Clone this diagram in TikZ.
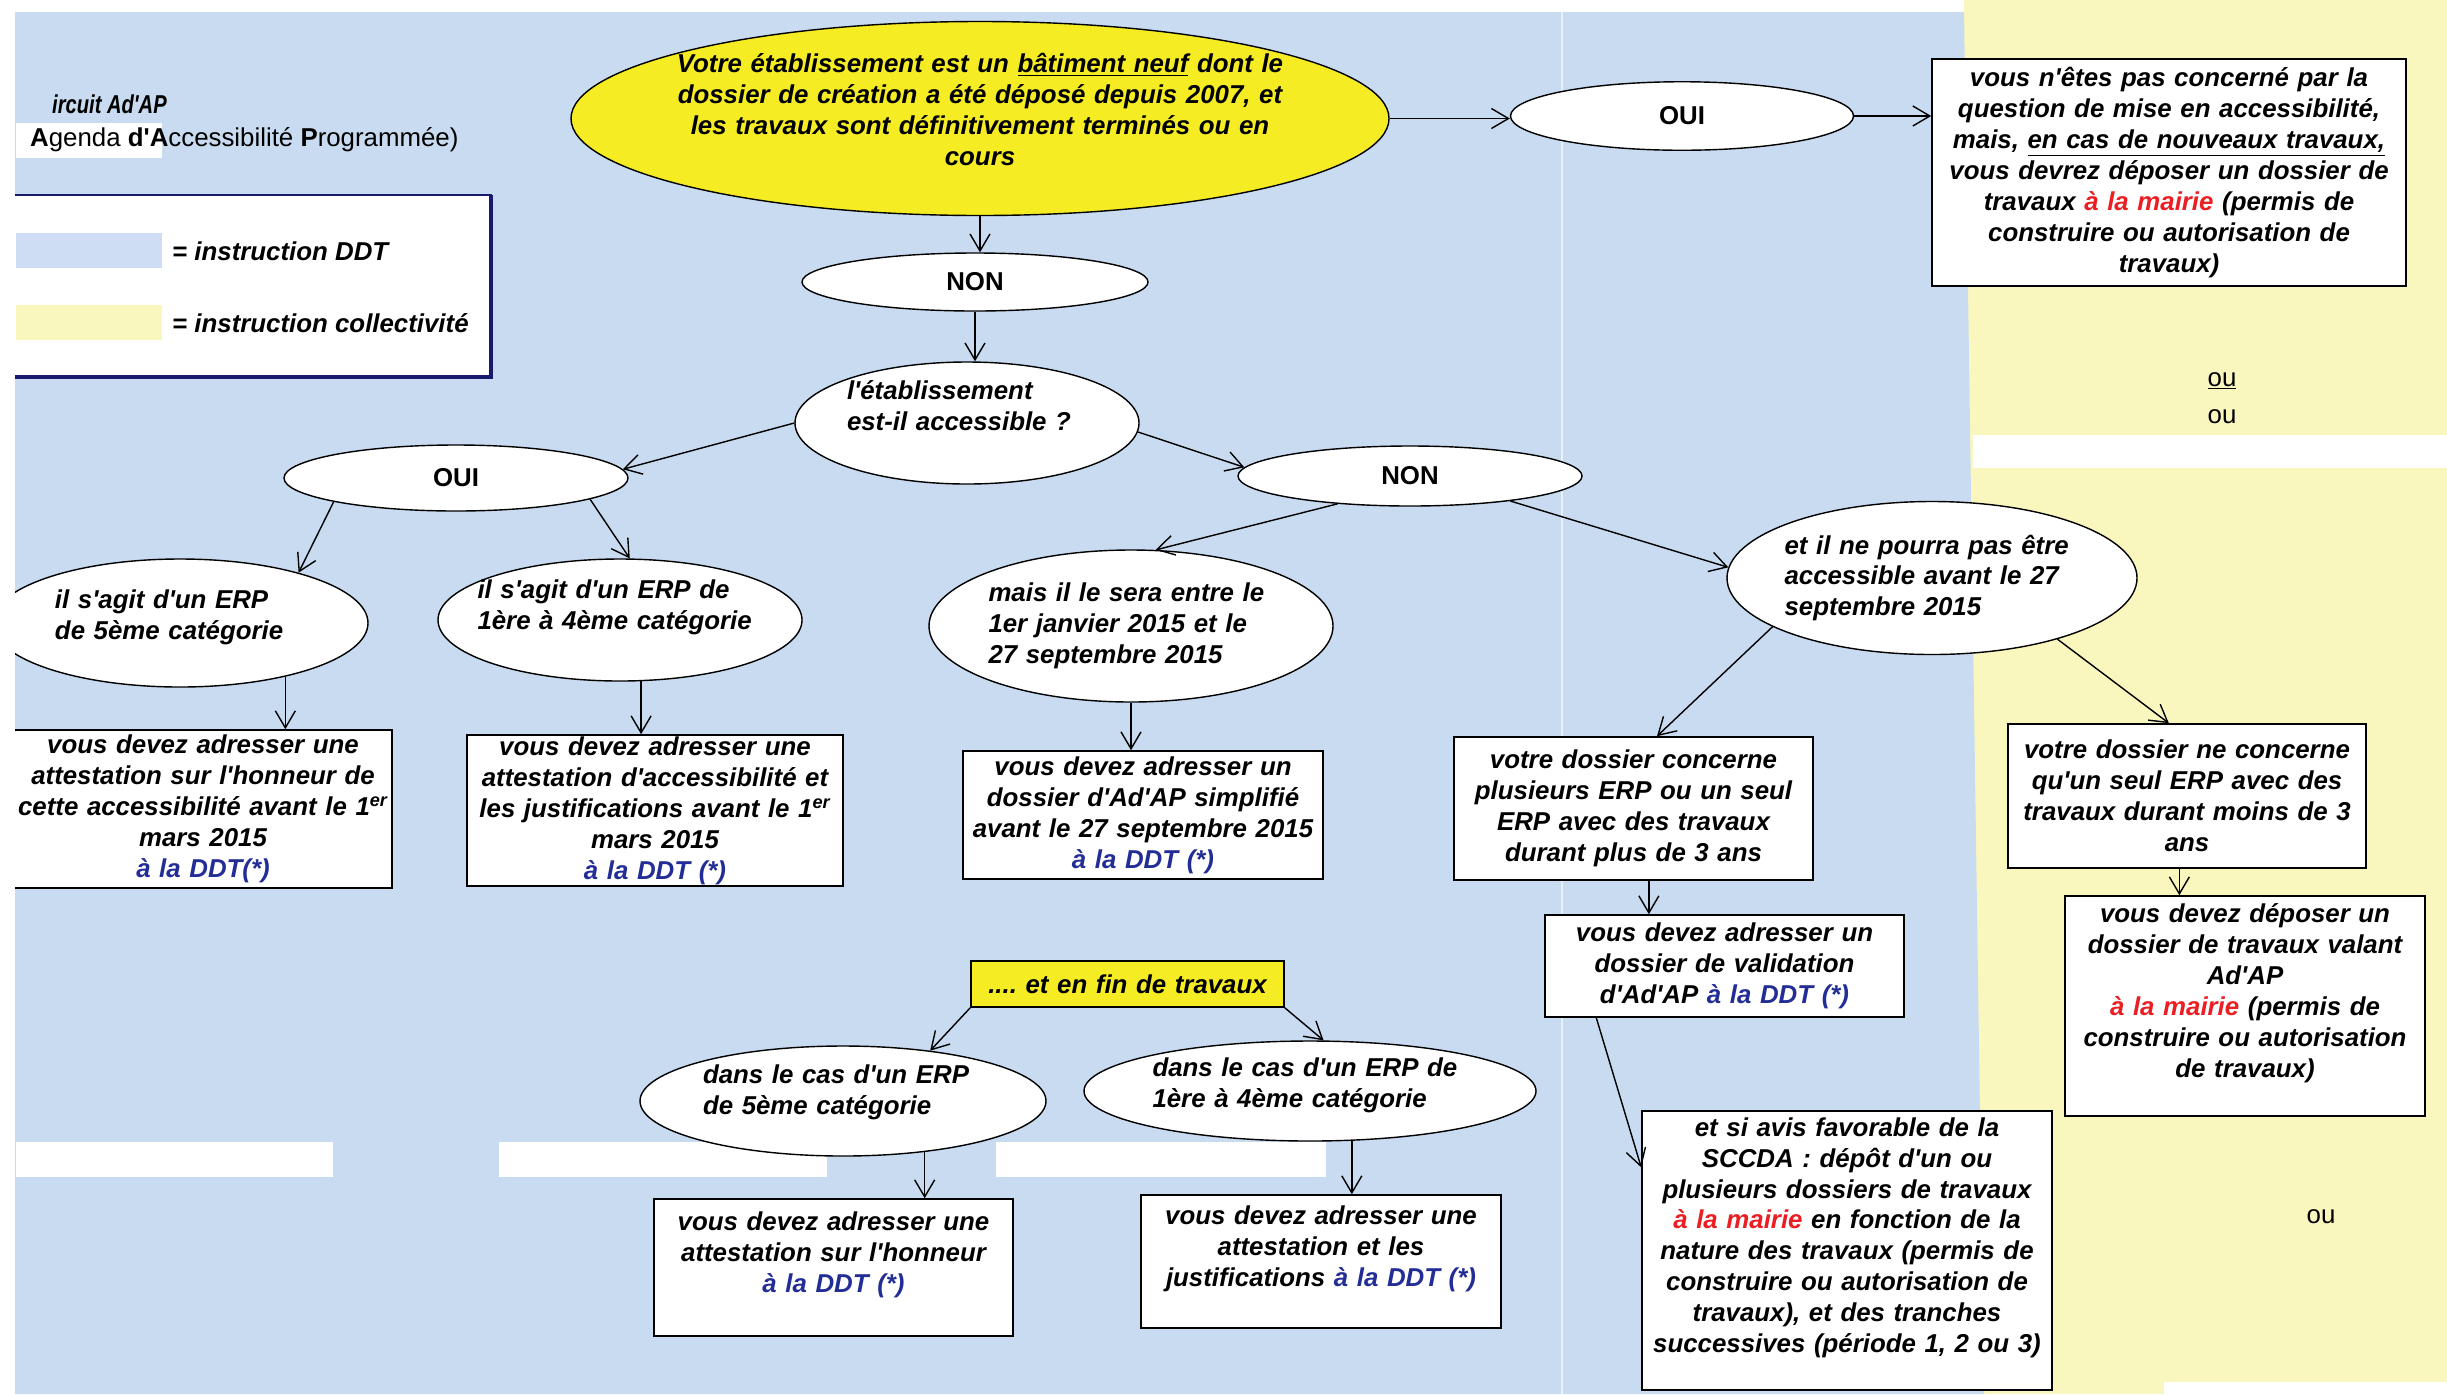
\documentclass[tikz,border=0pt]{standalone}
\usepackage{fontspec}
\usepackage{graphicx}
\setmainfont{Liberation Sans}[Ligatures=TeXOff]
\usetikzlibrary{shapes.geometric,arrows.meta}
\definecolor{fondbleu}{RGB}{200,219,240}
\definecolor{fondjaune}{RGB}{250,247,190}
\definecolor{carrebleu}{RGB}{206,221,243}
\definecolor{jaunevif}{RGB}{246,236,36}
\definecolor{bleuddt}{RGB}{35,45,150}
\definecolor{rougemairie}{RGB}{235,30,35}
\definecolor{marine}{RGB}{25,25,110}
\frenchspacing
\newcommand{\fsz}{\fontsize{14.7}{17.6}\selectfont}
\newcommand{\ddt}[1]{\textcolor{bleuddt}{#1}}
\newcommand{\mairie}[1]{\textcolor{rougemairie}{#1}}
\tikzset{
	bulle/.style={ellipse, draw, fill=white, line width=0.8pt, inner xsep=-3mm, inner ysep=0pt, align=left, font=\fsz\bfseries\itshape},
	choix/.style={ellipse, draw, fill=white, line width=0.8pt, font=\fsz\bfseries},
	cadre/.style={rectangle, draw, fill=white, line width=0.9pt, inner xsep=0.5mm, inner ysep=0.3mm, align=center, font=\fsz\bfseries\itshape},
	fleche/.style={-{Straight Barb[length=3.4mm,width=4mm]}, line width=0.8pt},
	etiq/.style={anchor=west, font=\fsz}
}
\begin{document}
\begin{tikzpicture}[x=0.2mm, y=-0.2mm]
	\useasboundingbox (0,0) rectangle (2447,1394);
	\clip (0,0) rectangle (2447,1394);
	\fill[white] (0,0) rectangle (2447,1394);
	\fill[fondjaune] (1964,0) rectangle (2447,1394);
	\fill[fondbleu] (15,12) -- (1964,12) -- (1984,1394) -- (15,1394) -- cycle;
	\fill[white] (1973,435) rectangle (2447,468);
	\fill[white] (16,1142) rectangle (333,1177);
	\fill[white] (499,1142) rectangle (827,1177);
	\fill[white] (996,1142) rectangle (1326,1177);
	\fill[white] (2164,1382) rectangle (2447,1394);
	\fill[white] (16,123) rectangle (162,158);
	\draw[white, opacity=0.6, line width=1.2pt] (1562,12) -- (1562,1394);

	\node[etiq, font=\fsz\bfseries\itshape] (titre) at (46,104) {\scalebox{0.78}[1]{ircuit Ad'AP}};
	\node[etiq] (soustitre) at (24,140) {\textbf{A}genda \textbf{d'A}ccessibilité \textbf{P}rogrammée)};
	\fill[white] (10,195) rectangle (491,377);
	\draw[marine, line width=1pt] (10,195) rectangle (491,377);
	\draw[marine, line width=2.2pt] (491,195) -- (491,377) -- (10,377);
	\fill[carrebleu] (16,233) rectangle (162,268);
	\fill[fondjaune] (16,305) rectangle (162,340);
	\node[etiq, font=\fsz\bfseries\itshape] (lddt) at (166,251) {= instruction DDT};
	\node[etiq, font=\fsz\bfseries\itshape] (lcoll) at (166,323) {= instruction collectivité};
	\node[etiq, anchor=center] (ou1) at (2222,381) {\underline{ou}};
	\node[etiq, anchor=center] (ou2) at (2222,417) {ou};
	\node[etiq, anchor=center] (ou3) at (2321,1217) {ou};

	\node[bulle, align=center, fill=jaunevif, inner xsep=-5mm, text width=124mm, minimum width=163.6mm, minimum height=38.8mm] (vtop) at (980,118.5) {Votre établissement est un \underline{bâtiment neuf} dont le\\dossier de création a été déposé depuis 2007, et\\les travaux sont définitivement terminés ou en\\cours\\[-2.5mm]\mbox{}};
	\node[choix, minimum width=68.6mm, minimum height=13.7mm] (oui1) at (1682,116) {OUI};
	\node[cadre, text width=93.8mm, minimum height=45.4mm] (b1) at (2169,172.5) {vous n'êtes pas concerné par la\\question de mise en accessibilité,\\mais, \underline{en cas de nouveaux travaux,}\\vous devrez déposer un dossier de\\travaux \mairie{à la mairie} (permis de\\construire ou autorisation de\\travaux)};
	\node[choix, minimum width=69.2mm, minimum height=11.6mm] (non1) at (975,282) {NON};
	\node[bulle, text width=48mm, minimum width=68.8mm, minimum height=24.4mm] (ques) at (967,423) {l'établissement\\est-il accessible ?\\[0.8mm]\mbox{}};
	\node[choix, minimum width=68.8mm, minimum height=13.2mm] (oui2) at (456,478) {OUI};
	\node[choix, minimum width=68.8mm, minimum height=12mm] (non2) at (1410,476) {NON};
	\node[bulle, text width=50mm, minimum width=75.2mm, minimum height=25.6mm] (cat5) at (180,623) {il s'agit d'un ERP\\de 5ème catégorie\\[-2.8mm]\mbox{}};
	\node[bulle, text width=57mm, minimum width=72.8mm, minimum height=24.4mm] (cat14) at (620,620) {il s'agit d'un ERP de\\1ère à 4ème catégorie\\\mbox{}};
	\node[bulle, text width=57mm, minimum width=80.8mm, minimum height=30.4mm] (sera) at (1131,626) {mais il le sera entre le\\1er janvier 2015 et le\\27 septembre 2015};
	\node[bulle, text width=59mm, minimum width=82mm, minimum height=30.6mm] (pourra) at (1932,578) {et il ne pourra pas être\\accessible avant le 27\\septembre 2015};
	\node[cadre, text width=74.6mm, minimum height=31.6mm] (b2) at (203,809) {vous devez adresser une\\attestation sur l'honneur de\\cette accessibilité avant le 1\textsuperscript{er}\\mars 2015\\\ddt{à la DDT(*)}};
	\node[cadre, text width=74.2mm, minimum height=30.2mm] (b3) at (655,810.5) {vous devez adresser une\\attestation d'accessibilité et\\les justifications avant le 1\textsuperscript{er}\\mars 2015\\\ddt{à la DDT (*)}};
	\node[cadre, text width=71mm, minimum height=25.6mm] (b4) at (1143,815) {vous devez adresser un\\dossier d'Ad'AP simplifié\\avant le 27 septembre 2015\\\ddt{à la DDT (*)}};
	\node[cadre, text width=70.8mm, minimum height=28.6mm] (b5) at (1633.5,808.5) {votre dossier concerne\\plusieurs ERP ou un seul\\ERP avec des travaux\\durant plus de 3 ans};
	\node[cadre, text width=70.6mm, minimum height=28.8mm] (b6) at (2187,796) {votre dossier ne concerne\\qu'un seul ERP avec des\\travaux durant moins de 3\\ans};
	\node[cadre, text width=70.8mm, minimum height=20.4mm] (b7) at (1724.5,966) {vous devez adresser un\\dossier de validation\\d'Ad'AP \ddt{à la DDT (*)}};
	\node[cadre, text width=71mm, minimum height=44mm] (b8) at (2245,1006) {vous devez déposer un\\dossier de travaux valant\\Ad'AP\\\mairie{à la mairie} (permis de\\construire ou autorisation\\de travaux)\\\mbox{}};
	\node[cadre, text width=81mm, minimum height=55.8mm] (b9) at (1847,1250.5) {et si avis favorable de la\\SCCDA : dépôt d'un ou\\plusieurs dossiers de travaux\\\mairie{à la mairie} en fonction de la\\nature des travaux (permis de\\construire ou autorisation de\\travaux), et des tranches\\successives (période 1, 2 ou 3)\\\mbox{}};
	\node[cadre, fill=jaunevif, text width=61.6mm, minimum height=9.2mm] (b10) at (1127.5,984) {.... et en fin de travaux};
	\node[bulle, text width=56mm, minimum width=81.2mm, minimum height=22mm] (dans5) at (843,1101) {dans le cas d'un ERP\\de 5ème catégorie\\[-1.8mm]\mbox{}};
	\node[bulle, text width=63mm, minimum width=90.4mm, minimum height=20mm] (dans14) at (1310,1091) {dans le cas d'un ERP de\\1ère à 4ème catégorie\\[-2.7mm]\mbox{}};
	\node[cadre, text width=70.8mm, minimum height=27.4mm] (b11) at (833.5,1267.5) {vous devez adresser une\\attestation sur l'honneur\\\ddt{à la DDT (*)}\\\mbox{}};
	\node[cadre, text width=71mm, minimum height=26.6mm] (b12) at (1321,1261.5) {vous devez adresser une\\attestation et les\\justifications \ddt{à la DDT (*)}\\\mbox{}};

	\draw[fleche] (vtop.south) -- (vtop.south |- non1.north);
	\draw[fleche] (vtop.east) -- (vtop.east -| oui1.west);
	\draw[fleche] (oui1.east) -- (oui1.east -| b1.west);
	\draw[fleche] (non1.south) -- (non1.south |- ques.north);
	\draw[fleche] (ques.west) -- (oui2.3);
	\draw[fleche] (ques.-3) -- (non2.177);
	\draw[fleche] (oui2.191) -- (cat5.23);
	\draw[fleche] (oui2.-9) -- (cat14.81);
	\draw[fleche] (cat5.-27) -- (cat5.-27 |- b2.north);
	\draw[fleche] (cat14.-71) -- (cat14.-71 |- b3.north);
	\draw[fleche] (non2.201) -- (sera.72);
	\draw[fleche] (non2.-14) -- (pourra.177);
	\draw[fleche] (sera.south) -- (sera.south |- b4.north);
	\draw[fleche] (pourra.197) -- (b5.72);
	\draw[fleche] (pourra.-26) -- (b6.104);
	\draw[fleche] (b5.-78) -- (b5.-78 |- b7.north);
	\draw[fleche] (b6.-96) -- (b6.-96 |- b8.north);
	\draw[fleche] (b7.-158) -- (b9.158);
	\draw[fleche] (b10.south west) -- (dans5.30);
	\draw[fleche] (b10.south east) -- (dans14.75);
	\draw[fleche] (dans5.-32) -- (dans5.-32 |- b11.north);
	\draw[fleche] (dans14.-50) -- (dans14.-50 |- b12.north);
	\fill[white] (0,0) rectangle (15,1394);
\end{tikzpicture}
\end{document}
